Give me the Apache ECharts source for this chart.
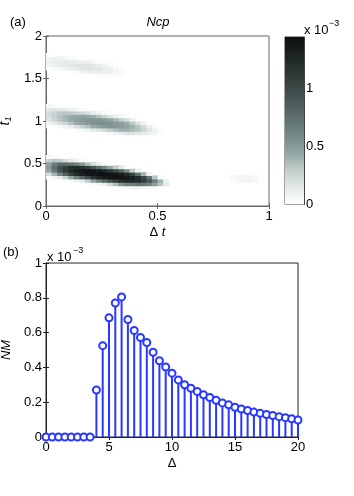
<!DOCTYPE html>
<html>
<head>
<meta charset="utf-8">
<script src="https://cdn.jsdelivr.net/npm/echarts@6/dist/echarts.min.js"></script>
<style>
  html, body { margin: 0; padding: 0; background: #fff; }
  #chart { width: 354px; height: 496px; }
</style>
</head>
<body>
<div id="chart"></div>
<script>
// (a) Ncp map: cells of 0.025 in Δt and 0.04 in t1, values in units of 1e-5
const dtStep = 0.025;
const t1Step = 0.04;
const ncpT1 = [0.22, 0.26, 0.30, 0.34, 0.38, 0.42, 0.46, 0.50, 0.54, 0.58,
  0.30, 0.34,
  0.82, 0.86, 0.90, 0.94, 0.98, 1.02, 1.06, 1.10, 1.14, 1.18,
  1.54, 1.58, 1.62, 1.66, 1.70, 1.74, 1.78];
const ncpStart = [12, 7, 3, 0, 0, 0, 0, 0, 0, 0,
  32, 32,
  14, 8, 4, 0, 0, 0, 0, 0, 0, 0,
  8, 4, 0, 0, 0, 0, 0];
const ncpVals = [
  [1, 4, 5, 7, 7, 5, 4, 2],
  [1, 3, 6, 12, 23, 36, 53, 62, 67, 71, 68, 61, 48, 33, 14],
  [1, 3, 8, 15, 28, 46, 62, 78, 94, 108, 120, 125, 125, 122, 109, 90, 65, 38, 11],
  [2, 6, 14, 28, 45, 64, 81, 99, 117, 128, 135, 139, 141, 140, 137, 131, 123, 103, 71, 32, 3],
  [21, 39, 61, 84, 106, 122, 132, 139, 142, 144, 144, 142, 140, 134, 123, 104, 75, 38, 8],
  [44, 70, 92, 109, 125, 133, 138, 140, 139, 135, 127, 114, 99, 80, 56, 29, 9],
  [50, 75, 95, 108, 120, 122, 117, 107, 92, 75, 59, 43, 28, 14, 4],
  [47, 67, 78, 77, 74, 64, 50, 35, 21, 11, 5, 2],
  [27, 32, 30, 22, 14, 8, 4, 1],
  [4, 3, 2, 1],
  [1, 3, 5, 6, 6, 5, 2],
  [2, 5, 7, 7, 6, 4, 2],
  [1, 1, 1, 1, 1],
  [1, 1, 2, 4, 9, 14, 18, 18, 16, 14, 10, 6, 1],
  [1, 2, 5, 9, 15, 19, 24, 30, 35, 40, 40, 37, 32, 25, 16, 8, 2],
  [1, 1, 4, 8, 13, 20, 27, 34, 42, 46, 50, 52, 51, 49, 45, 40, 32, 23, 12, 4],
  [7, 13, 19, 27, 34, 41, 47, 50, 53, 55, 55, 54, 51, 47, 41, 32, 19, 8, 1],
  [18, 25, 32, 38, 43, 47, 50, 52, 53, 53, 50, 45, 37, 29, 21, 9, 2],
  [22, 28, 34, 39, 42, 45, 46, 44, 40, 34, 26, 18, 10, 5, 2],
  [22, 26, 31, 32, 31, 28, 25, 20, 13, 8, 4, 2],
  [15, 17, 16, 14, 10, 6, 3, 2],
  [5, 3, 2, 1],
  [1, 2, 4, 4, 3, 2],
  [1, 3, 6, 9, 11, 12, 12, 10, 7, 4, 1],
  [1, 3, 5, 8, 12, 14, 16, 17, 16, 15, 13, 10, 6, 2],
  [6, 10, 12, 15, 16, 17, 17, 17, 15, 12, 9, 4, 1],
  [8, 11, 13, 14, 14, 13, 11, 8, 5, 2, 1],
  [7, 8, 8, 6, 4, 2, 1],
  [2, 1]
];
const ncpMax = 1.44; // colorbar top, x 1e-3
const cmap = ['#ffffff', '#e4eaea', '#c3cfcd', '#95a8a5', '#778a87', '#627471',
  '#4c5d5b', '#3a4846', '#2a3533', '#1b2221', '#0d1010'];

// (b) NM stem plot, values x 1e-3
const nmDelta = [0, 0.5, 1, 1.5, 2, 2.5, 3, 3.5, 4, 4.5, 5, 5.5, 6, 6.5, 7, 7.5, 8, 8.5, 9, 9.5,
  10, 10.5, 11, 11.5, 12, 12.5, 13, 13.5, 14, 14.5, 15, 15.5, 16, 16.5, 17, 17.5, 18, 18.5, 19, 19.5, 20];
const nmValues = [0, 0, 0, 0, 0, 0, 0, 0,
  0.27, 0.525, 0.685, 0.77, 0.805, 0.675, 0.612, 0.572, 0.543, 0.487, 0.438, 0.402,
  0.367, 0.328, 0.3, 0.28, 0.262, 0.243, 0.227, 0.211, 0.196, 0.185, 0.171, 0.161,
  0.152, 0.143, 0.136, 0.129, 0.123, 0.117, 0.111, 0.105, 0.098];

const font = 'Liberation Sans';
const blue = '#2838ff';

const ncpData = [];
ncpT1.forEach((t1, r) => {
  ncpVals[r].forEach((v, i) => {
    ncpData.push([(ncpStart[r] + i + 0.5) * dtStep, t1, v / 100]);
  });
});
const nmData = nmDelta.map((d, i) => [d, nmValues[i]]);

const chart = echarts.init(document.getElementById('chart'));

const tickIn = (color) => ({ show: true, inside: true, length: 3, lineStyle: { color: color } });
const lineOf = (color) => ({ show: true, lineStyle: { color: color, width: 1 } });
const lbl = { fontSize: 13, color: '#000', fontFamily: font };

chart.setOption({
  animation: false,
  textStyle: { fontFamily: font },
  grid: [
    { left: 46, top: 36, width: 223, height: 170, outerBoundsMode: 'none', show: true, borderColor: '#666', borderWidth: 1 },
    { left: 285, top: 37, width: 19, height: 167.5, outerBoundsMode: 'none', show: true, borderColor: '#444', borderWidth: 1 },
    { left: 46, top: 263, width: 252, height: 174, outerBoundsMode: 'none', show: true, borderColor: '#222', borderWidth: 1 }
  ],
  xAxis: [
    { gridIndex: 0, type: 'value', min: 0, max: 1, interval: 0.5, position: 'bottom',
      axisLine: lineOf('#666'), axisTick: tickIn('#666'), splitLine: { show: false },
      axisLabel: Object.assign({ margin: 4 }, lbl),
      name: '{n|Δ }{i|t}', nameLocation: 'middle', nameGap: 20,
      nameTextStyle: { color: '#000', rich: {
        n: { fontSize: 13, fontFamily: font, color: '#000' },
        i: { fontSize: 13, fontFamily: font, fontStyle: 'italic', color: '#000' } } } },
    { gridIndex: 0, type: 'value', min: 0, max: 1, interval: 0.5, position: 'top',
      axisLine: lineOf('#666'), axisTick: tickIn('#666'), splitLine: { show: false },
      axisLabel: { show: false } },
    { gridIndex: 1, type: 'category', data: ['c'], show: false },
    { gridIndex: 2, type: 'value', min: 0, max: 20, interval: 5, position: 'bottom',
      axisLine: lineOf('#222'), axisTick: tickIn('#222'), splitLine: { show: false },
      axisLabel: Object.assign({ margin: 4 }, lbl),
      name: 'Δ', nameLocation: 'middle', nameGap: 20,
      nameTextStyle: { fontSize: 13, color: '#000', fontFamily: font } },
    { gridIndex: 2, type: 'value', min: 0, max: 20, interval: 5, position: 'top',
      axisLine: lineOf('#222'), axisTick: tickIn('#222'), splitLine: { show: false },
      axisLabel: { show: false } }
  ],
  yAxis: [
    { gridIndex: 0, type: 'value', min: 0, max: 2, interval: 0.5, position: 'left',
      axisLine: lineOf('#666'), axisTick: tickIn('#666'), splitLine: { show: false },
      axisLabel: Object.assign({ margin: 4 }, lbl),
      name: '{i|t}{s|1}', nameLocation: 'middle', nameGap: 22,
      nameTextStyle: { color: '#000', rich: {
        i: { fontSize: 14, fontFamily: font, fontStyle: 'italic', color: '#000', lineHeight: 16 },
        s: { fontSize: 9, fontFamily: font, fontStyle: 'italic', color: '#000', verticalAlign: 'bottom', lineHeight: 16 } } } },
    { gridIndex: 0, type: 'value', min: 0, max: 2, interval: 0.5, position: 'right',
      axisLine: lineOf('#666'), axisTick: tickIn('#666'), splitLine: { show: false },
      axisLabel: { show: false } },
    { gridIndex: 1, type: 'value', min: 0, max: ncpMax, interval: 0.5, position: 'right',
      axisLine: lineOf('#444'), axisTick: tickIn('#444'), splitLine: { show: false },
      axisLabel: Object.assign({ margin: 2, showMaxLabel: false }, lbl) },
    { gridIndex: 1, type: 'value', min: 0, max: ncpMax, interval: 0.5, position: 'left',
      axisLine: lineOf('#444'), axisTick: tickIn('#444'), splitLine: { show: false },
      axisLabel: { show: false } },
    { gridIndex: 2, type: 'value', min: 0, max: 1, interval: 0.2, position: 'left',
      axisLine: lineOf('#222'), axisTick: tickIn('#222'), splitLine: { show: false },
      axisLabel: Object.assign({ margin: 4 }, lbl),
      name: 'NM', nameLocation: 'middle', nameGap: 26,
      nameTextStyle: { fontSize: 13, fontStyle: 'italic', color: '#000', fontFamily: font } },
    { gridIndex: 2, type: 'value', min: 0, max: 1, interval: 0.2, position: 'right',
      axisLine: lineOf('#222'), axisTick: tickIn('#222'), splitLine: { show: false },
      axisLabel: { show: false } }
  ],
  visualMap: {
    show: false, type: 'continuous', seriesIndex: 0, dimension: 2,
    min: 0, max: ncpMax, inRange: { color: cmap }
  },
  series: [
    {
      type: 'custom', xAxisIndex: 0, yAxisIndex: 0, clip: true, data: ncpData,
      renderItem: (params, api) => {
        const x = api.value(0), y = api.value(1);
        const p0 = api.coord([x - dtStep / 2, y + t1Step / 2]);
        const p1 = api.coord([x + dtStep / 2, y - t1Step / 2]);
        return {
          type: 'rect',
          shape: { x: p0[0], y: p0[1], width: p1[0] - p0[0] + 0.6, height: p1[1] - p0[1] + 0.6 },
          style: { fill: api.visual('color') }
        };
      }
    },
    {
      type: 'bar', xAxisIndex: 2, yAxisIndex: 2, data: [ncpMax], barWidth: '100%',
      itemStyle: { color: {
        type: 'linear', x: 0, y: 1, x2: 0, y2: 0,
        colorStops: cmap.map((c, i) => ({ offset: i / (cmap.length - 1), color: c }))
      } }
    },
    {
      type: 'bar', xAxisIndex: 3, yAxisIndex: 4, data: nmData, barWidth: 2,
      itemStyle: { color: blue }
    },
    {
      type: 'scatter', xAxisIndex: 3, yAxisIndex: 4, data: nmData,
      symbol: 'emptyCircle', symbolSize: 7,
      itemStyle: { color: blue, borderWidth: 2, opacity: 1 }, z: 3
    }
  ],
  graphic: [
    { type: 'text', x: 10, y: 22, style: { text: '(a)', fontSize: 13, fontFamily: font, fill: '#000', verticalAlign: 'middle' } },
    { type: 'text', x: 158, y: 22, style: { text: 'Ncp', fontSize: 13, fontStyle: 'italic', fontFamily: font, fill: '#000', align: 'center', verticalAlign: 'middle' } },
    { type: 'text', x: 304, y: 30, style: { text: 'x 10', fontSize: 13, fontFamily: font, fill: '#000', verticalAlign: 'middle' } },
    { type: 'text', x: 329, y: 24, style: { text: '−3', fontSize: 9, fontFamily: font, fill: '#000', verticalAlign: 'middle' } },
    { type: 'text', x: 3, y: 252, style: { text: '(b)', fontSize: 13, fontFamily: font, fill: '#000', verticalAlign: 'middle' } },
    { type: 'text', x: 47, y: 257, style: { text: 'x 10', fontSize: 13, fontFamily: font, fill: '#000', verticalAlign: 'middle' } },
    { type: 'text', x: 73, y: 251, style: { text: '−3', fontSize: 9, fontFamily: font, fill: '#000', verticalAlign: 'middle' } }
  ]
});
</script>
</body>
</html>
